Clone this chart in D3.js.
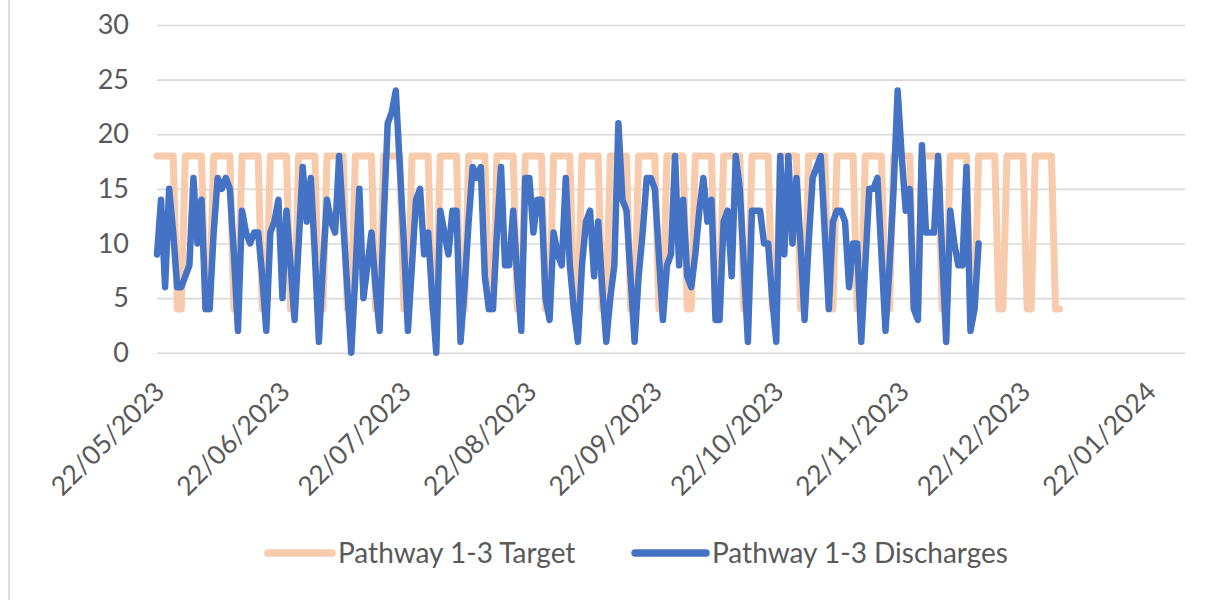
<!DOCTYPE html>
<html>
<head>
<meta charset="utf-8">
<script src="https://cdn.jsdelivr.net/npm/d3@7/dist/d3.min.js"></script>
<style>
  html, body { margin: 0; padding: 0; background: #ffffff; }
  svg { display: block; }
  text { font-family: Lato, "Open Sans", sans-serif; fill: #595959; }
</style>
</head>
<body>
<svg id="chart" width="1229" height="600"></svg>
<script>
// ---------- DATA ----------
const startDate = "2023-05-22";   // first day of both daily series
const axisMaxDate = "2024-01-31"; // end of the date axis

const seriesNames = ["Pathway 1-3 Target", "Pathway 1-3 Discharges"];

// Daily target (Mon-Fri 18, Sat-Sun 4), 22/05/2023 .. 31/12/2023
const targetValues = [
  18,18,18,18,18,4,4, 18,18,18,18,18,4,4, 18,18,18,18,18,4,4, 18,18,18,18,18,4,4,
  18,18,18,18,18,4,4, 18,18,18,18,18,4,4, 18,18,18,18,18,4,4, 18,18,18,18,18,4,4,
  18,18,18,18,18,4,4, 18,18,18,18,18,4,4, 18,18,18,18,18,4,4, 18,18,18,18,18,4,4,
  18,18,18,18,18,4,4, 18,18,18,18,18,4,4, 18,18,18,18,18,4,4, 18,18,18,18,18,4,4,
  18,18,18,18,18,4,4, 18,18,18,18,18,4,4, 18,18,18,18,18,4,4, 18,18,18,18,18,4,4,
  18,18,18,18,18,4,4, 18,18,18,18,18,4,4, 18,18,18,18,18,4,4, 18,18,18,18,18,4,4,
  18,18,18,18,18,4,4, 18,18,18,18,18,4,4, 18,18,18,18,18,4,4, 18,18,18,18,18,4,4,
  18,18,18,18,18,4,4, 18,18,18,18,18,4,4, 18,18,18,18,18,4,4, 18,18,18,18,18,4,4
];

// Daily discharges, 22/05/2023 .. 11/12/2023
const dischargeValues = [
  9,14,6,15,11,6,6, 7,8,16,10,14,4,4, 11,16,15,16,15,9,2, 13,11,10,11,11,7,2,
  11,12,14,5,13,8,3, 10,17,12,16,9,1,8, 14,12,11,18,12,6,0, 7,15,5,8,11,6,2,
  12,21,22,24,17,10,2, 8,14,15,9,11,5,0, 13,11,9,13,13,1,6, 12,17,16,17,7,4,4,
  11,17,8,8,13,7,2, 16,16,11,14,14,5,3, 11,9,8,16,8,4,1, 8,12,13,7,12,6,1,
  5,8,21,14,13,7,1, 7,11,16,16,15,9,3, 8,9,18,8,14,7,6, 9,13,16,12,14,3,3,
  12,13,7,18,15,8,1, 13,13,13,10,10,5,1, 18,9,18,10,16,10,3, 10,16,17,18,11,4,12,
  13,13,12,6,10,10,1, 8,15,15,16,9,2,8, 15,24,18,13,15,4,3, 19,11,11,11,18,9,1,
  13,10,8,8,17,2,4, 10
];

const xTickLabels = ["22/05/2023","22/06/2023","22/07/2023","22/08/2023","22/09/2023",
                     "22/10/2023","22/11/2023","22/12/2023","22/01/2024"];
const yTickValues = [0, 5, 10, 15, 20, 25, 30];

// ---------- BUILD ----------
const parseISO = d3.utcParse("%Y-%m-%d");
const parseTick = d3.utcParse("%d/%m/%Y");
const start = parseISO(startDate);
const targetData = targetValues.map((v, i) => ({ date: d3.utcDay.offset(start, i), v }));
const dischargeData = dischargeValues.map((v, i) => ({ date: d3.utcDay.offset(start, i), v }));
const tickDates = xTickLabels.map(parseTick);

const colors = { target: "#F8CBAD", discharges: "#4472C4" };
const plot = { left: 157, right: 1185, top: 25, bottom: 352.7 };

const svg = d3.select("#chart");

// chart-area left border
svg.append("line")
  .attr("x1", 9).attr("x2", 9).attr("y1", 0).attr("y2", 600)
  .attr("stroke", "#d0d0d0").attr("stroke-width", 1.5);

const x = d3.scaleUtc().domain([start, parseISO(axisMaxDate)]).range([plot.left, plot.right]);
const y = d3.scaleLinear().domain([0, 30]).range([plot.bottom, plot.top]);

// gridlines
const grid = svg.append("g").attr("transform", `translate(${plot.left},0)`)
  .call(d3.axisLeft(y).tickValues(yTickValues).tickSize(-(plot.right - plot.left)).tickFormat(""));
grid.select(".domain").remove();
grid.selectAll("line").attr("stroke", "#d9d9d9").attr("stroke-width", 1.6);

// y axis labels
const yAxis = svg.append("g").attr("transform", `translate(${plot.left},0)`)
  .call(d3.axisLeft(y).tickValues(yTickValues).tickSize(0).tickPadding(28));
yAxis.select(".domain").remove();
yAxis.selectAll("text").attr("font-size", 27).attr("fill", "#595959")
  .style("font-family", "Lato, 'Open Sans', sans-serif");

// x axis labels
const xAxis = svg.append("g").attr("transform", `translate(0,${plot.bottom})`)
  .call(d3.axisBottom(x).tickValues(tickDates).tickSize(0)
    .tickFormat((d, i) => xTickLabels[i]));
xAxis.select(".domain").remove();
xAxis.selectAll(".tick text")
  .attr("font-size", 26.5).attr("fill", "#595959")
  .style("font-family", "Lato, 'Open Sans', sans-serif")
  .attr("text-anchor", "end")
  .attr("x", 0).attr("y", 0).attr("dy", "0.35em")
  .attr("transform", "translate(2,34) rotate(-45)");

// lines
const line = d3.line().x(d => x(d.date)).y(d => y(d.v));
svg.append("path").datum(targetData)
  .attr("fill", "none").attr("stroke", colors.target).attr("stroke-width", 7)
  .attr("stroke-linejoin", "round").attr("stroke-linecap", "round")
  .attr("d", line);
svg.append("path").datum(dischargeData)
  .attr("fill", "none").attr("stroke", colors.discharges).attr("stroke-width", 6.5)
  .attr("stroke-linejoin", "round").attr("stroke-linecap", "round")
  .attr("d", line);

// legend
const legendItems = [
  { name: seriesNames[0], color: colors.target, x1: 268, x2: 332, tx: 338 },
  { name: seriesNames[1], color: colors.discharges, x1: 635, x2: 706, tx: 712 }
];
const legendY = 553;
const lg = svg.append("g");
legendItems.forEach(it => {
  lg.append("line").attr("x1", it.x1).attr("x2", it.x2).attr("y1", legendY).attr("y2", legendY)
    .attr("stroke", it.color).attr("stroke-width", 7.5).attr("stroke-linecap", "round");
  lg.append("text").attr("x", it.tx).attr("y", legendY).attr("dy", "0.35em")
    .attr("font-size", 28).text(it.name);
});
</script>
</body>
</html>
